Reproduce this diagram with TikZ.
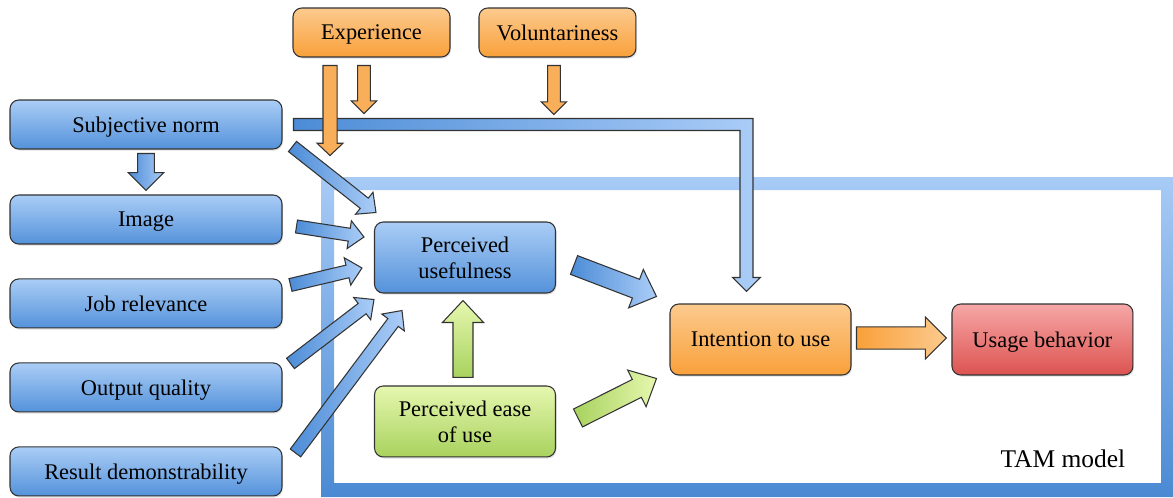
\documentclass[tikz,border=0pt]{standalone}
\usepackage{fontspec}
\setmainfont{Liberation Serif}
\newfontfamily\tamfont{Liberation Serif}
\usepackage{tikz}
\usetikzlibrary{calc,shadows}

\definecolor{blueTop}{HTML}{AACDF6}
\definecolor{blueBot}{HTML}{5492DA}
\definecolor{orangeTop}{HTML}{FCCA8E}
\definecolor{orangeBot}{HTML}{F9A03A}
\definecolor{greenTop}{HTML}{E6F7AF}
\definecolor{greenBot}{HTML}{A8D25E}
\definecolor{redTop}{HTML}{F6A7A7}
\definecolor{redBot}{HTML}{DC5350}
\definecolor{frameTop}{HTML}{A8CBF6}
\definecolor{frameBot}{HTML}{4A8AD3}
\definecolor{arrowDark}{HTML}{4C8CD7}
\definecolor{arrowLight}{HTML}{ABCDF7}
\definecolor{arrowOrange}{HTML}{F9AE5A}

\tikzstyle{box} = [rectangle, rounded corners=5pt, draw=black!80, line width=0.6pt, align=center, text depth=0pt, font=\tamfont\fontsize{12.75}{15}\selectfont, drop shadow={opacity=0.25, shadow xshift=0.6pt, shadow yshift=-0.9pt}]
\tikzstyle{fat} = [draw=black!80, line width=0.6pt, line join=miter]

% block arrow: [style]{tail}{tip}{half shaft}{half head}{head length}
\newcommand{\fatarrow}[6][]{%
  \coordinate (fa-t) at #2;
  \coordinate (fa-h) at #3;
  \coordinate (fa-b) at ($(fa-h)!#6!(fa-t)$);
  \path[fat, #1] ($(fa-t)!#4!90:(fa-h)$) -- ($(fa-b)!#4!-90:(fa-t)$) -- ($(fa-b)!#5!-90:(fa-t)$)
    -- (fa-h) -- ($(fa-b)!#5!90:(fa-t)$) -- ($(fa-b)!#4!90:(fa-t)$) -- ($(fa-t)!#4!-90:(fa-h)$) -- cycle;}

\begin{document}
\begin{tikzpicture}[x=0.02cm, y=-0.02cm,
    side_box/.style={box, minimum width=5.44cm, minimum height=0.98cm, top color=blueTop, bottom color=blueBot},
    mod_box/.style={box, minimum width=3.14cm, minimum height=0.98cm, top color=orangeTop, bottom color=orangeBot},
    core_box/.style={box, minimum width=3.62cm, minimum height=1.42cm},
    blue_arrow/.style={left color=arrowDark, right color=arrowLight},
    green_arrow/.style={left color=greenBot, right color=greenTop}]

    \useasboundingbox (0,0) rectangle (1173,497);

    % TAM frame
    \shade[top color=frameTop, bottom color=frameBot, even odd rule]
        (321,177) rectangle (1173,497) (334,190) rectangle (1161,483);
    \node[font=\tamfont\fontsize{14.5}{17}\selectfont] (tam) at (1063,459) {TAM model};

    % Nodes - external variables
    \node[side_box] (subj) at (146,124.5) {Subjective norm};
    \node[side_box] (img) [below of=subj, node distance=1.9cm] {Image};
    \node[side_box] (job) [below of=img, node distance=1.68cm] {Job relevance};
    \node[side_box] (outq) [below of=job, node distance=1.68cm] {Output quality};
    \node[side_box] (resd) [below of=outq, node distance=1.68cm] {Result demonstrability};

    % Nodes - moderators
    \node[mod_box] (exper) at (371.5,32.5) {Experience};
    \node[mod_box] (volun) [right of=exper, node distance=3.72cm] {Voluntariness};

    % Nodes - TAM core
    \node[core_box, top color=blueTop, bottom color=blueBot] (pu) at (465,257.5) {Perceived\\usefulness};
    \node[core_box, top color=greenTop, bottom color=greenBot] (peou) [below of=pu, node distance=3.28cm] {Perceived ease\\of use};
    \node[core_box, top color=orangeTop, bottom color=orangeBot] (intent) at (760.5,339.5) {Intention to use};
    \node[core_box, top color=redTop, bottom color=redBot] (usage) [right of=intent, node distance=5.64cm] {Usage behavior};

    % Subjective norm -> intention (bent bar)
    \coordinate (snT) at ($(intent.north)+(-14,-12)$);
    \coordinate (snC) at (snT |- subj.east);
    \path[fat, blue_arrow] ($(subj.east)+(11,-6)$) -- ($(snC)+(6.5,-6)$) -- ($(snT)+(6.5,-14)$)
        -- ($(snT)+(14,-14)$) -- (snT) -- ($(snT)+(-14,-14)$) -- ($(snT)+(-6.5,-14)$)
        -- ($(snC)+(-6.5,6)$) -- ($(subj.east)+(11,6)$) -- cycle;

    % Arrows into perceived usefulness
    \fatarrow[blue_arrow]{($(subj.south)+(0,4)$)}{($(img.north)+(0,-4)$)}{4.8pt}{10.2pt}{10.2pt}
    \fatarrow[blue_arrow]{($(subj.east)+(10,22)$)}{($(pu.north west)+(2,-9)$)}{3.7pt}{8pt}{8.5pt}
    \fatarrow[blue_arrow]{($(img.east)+(14,7)$)}{($(pu.west)+(-10,-20.5)$)}{3.7pt}{8pt}{8.5pt}
    \fatarrow[blue_arrow]{($(job.east)+(8,-18.5)$)}{($(pu.west)+(-12,10.5)$)}{3.7pt}{8pt}{8.5pt}
    \fatarrow[blue_arrow]{($(outq.east)+(8,-24)$)}{($(pu.south west)+(0,6)$)}{3.7pt}{8pt}{8.5pt}
    \fatarrow[blue_arrow]{($(resd.east)+(13,-18.5)$)}{($(pu.south west)+(28,17)$)}{3.7pt}{8pt}{8.5pt}
    \fatarrow[green_arrow, top color=greenTop, bottom color=greenBot]{($(peou.north)+(-2,-8)$)}{($(pu.south)+(-2,7)$)}{5.7pt}{11.7pt}{12.5pt}

    % Arrows into intention and usage
    \fatarrow[blue_arrow]{($(pu.east)+(18,7.5)$)}{($(intent.north west)+(-13,-7)$)}{5.7pt}{11.7pt}{12.5pt}
    \fatarrow[green_arrow]{($(peou.east)+(22,-3.5)$)}{($(intent.south west)+(-13,3)$)}{5.7pt}{11.7pt}{12.5pt}
    \fatarrow[left color=orangeBot, right color=orangeTop]{($(intent.east)+(5,-1.5)$)}{($(usage.west)+(-5,-1.5)$)}{6.3pt}{12pt}{12pt}

    % Moderator arrows
    \fatarrow[fill=arrowOrange]{($(exper.south)+(-41.5,8)$)}{($(exper.south)+(-41.5,98)$)}{4pt}{7.4pt}{7pt}
    \fatarrow[fill=arrowOrange]{($(exper.south)+(-7.5,8)$)}{($(exper.south)+(-7.5,56)$)}{3.6pt}{7.2pt}{7.2pt}
    \fatarrow[fill=arrowOrange]{($(volun.south)+(-3.5,8)$)}{($(volun.south)+(-3.5,57)$)}{3.6pt}{7.2pt}{7.2pt}
\end{tikzpicture}
\end{document}
